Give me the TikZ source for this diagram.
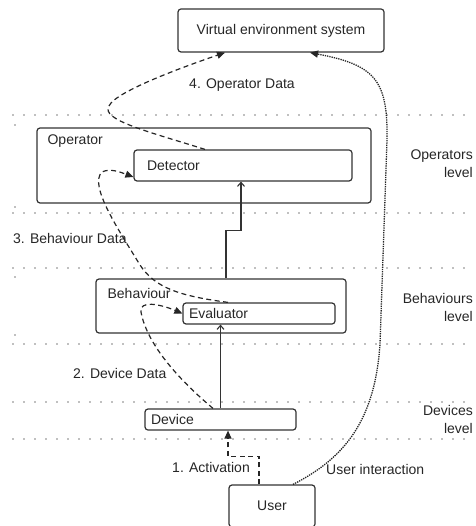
\documentclass[tikz,border=0pt]{standalone}
\usepackage{fontspec}
\setmainfont{Liberation Sans}
\usepackage{tikz}
\usetikzlibrary{arrows.meta,positioning,calc}

\begin{document}
\begin{tikzpicture}[
    x=1pt, y=-1pt,
    font=\fontsize{14}{18}\selectfont,
    box/.style={rectangle, draw=black!80, line width=1.2pt, rounded corners=3pt,
                inner sep=0pt, text=black!85},
    txt/.style={inner sep=0pt, text=black!85},
    level/.style={black!50, line width=1.7pt, line cap=round, dash pattern=on 0pt off 11pt},
    flow/.style={-{Straight Barb[length=4pt,width=7pt]}, black!80, line width=1.1pt},
    data/.style={-{Triangle[length=8pt,width=7pt]}, black!85, line width=1.2pt,
                 dash pattern=on 5pt off 3.5pt},
    interact/.style={-{Triangle[length=8pt,width=7pt]}, black!85, line width=1.3pt,
                     densely dotted},
]
\useasboundingbox (0,0) rectangle (475,526);

% Level separators
\foreach \y in {115,213,268,344,402,439}
    \draw[level] (13,\y) -- (475,\y);
\foreach \y in {125,207,277,335}
    \fill[black!50] (15,\y) circle (0.8pt);

% Top: system
\node[box, minimum width=206pt, minimum height=43pt] (ves) at (281,30.5) {Virtual environment system};

% Operators level
\node[box, minimum width=334pt, minimum height=75pt] (op) at (204,165.5) {};
\node[txt, anchor=west] (opname) at ([shift={(11pt,-14pt)}]op.north west) {Operator};
\node[box, minimum width=218pt, minimum height=31pt, text width=192pt,
      inner xsep=13pt, align=left] (det) at (243,165.5) {Detector};

% Behaviours level
\node[box, minimum width=250pt, minimum height=54pt] (beh) at (221,306) {};
\node[txt, anchor=west] (behname) at ([shift={(12pt,-15pt)}]beh.north west) {Behaviour};
\node[box, minimum width=152pt, minimum height=21pt, text width=140pt,
      inner xsep=6pt, align=left] (eval) at (259,313.5) {Evaluator};

% Devices level
\node[box, minimum width=151pt, minimum height=21pt, text width=139pt,
      inner xsep=6pt, align=left] (dev) at (220.5,419.5) {Device};

% User
\node[box, minimum width=86pt, minimum height=42pt] (user) at (272,506) {User};

% Level labels
\node[txt, align=right, anchor=east] (oplvl) at (473,164) {Operators\\level};
\node[txt, align=right, anchor=east] (behlvl) at (473,307) {Behaviours\\level};
\node[txt, align=right, anchor=east] (devlvl) at (473,419) {Devices\\level};

% Data labels
\node[txt] (opdata) at (242,85) {4. Operator Data};
\node[txt, anchor=west] (behdata) at (13,238) {3. Behaviour Data};
\node[txt, anchor=west] (devdata) at (73,373) {2. Device Data};
\node[txt, anchor=east] (act) at (250,467) {1. Activation};
\node[txt, anchor=west] (uint) at (326,469) {User interaction};

% Solid flow upwards
\draw[flow] (dev.north) -- (dev.north |- eval.south);
\draw[flow] ([xshift=5pt]beh.north) -- ++(0,-48) -| ([xshift=-2pt]det.south);

% Dashed data paths
\draw[data] ([xshift=-38pt]det.north) .. controls (150,132) and (100,120) .. (109,106)
    .. controls (115,92) and (180,68) .. ([xshift=-56pt]ves.south);
\draw[data] ([xshift=-31pt]eval.north) .. controls (180,296) and (155,288) .. (140,265)
    .. controls (120,232) and (88,185) .. (102,172)
    .. controls (110,168) and (120,172) .. ([yshift=-11.5pt]det.west);
\draw[data] ([xshift=-7.5pt]dev.north) .. controls (165,368) and (145,335) .. (141,312)
    .. controls (139,300) and (160,304) .. (eval.west);
\draw[data] ([xshift=-13pt]user.north) -- ++(0,-28) -| ([xshift=7.5pt]dev.south);

% User interaction
\draw[interact] ([xshift=21pt]user.north) .. controls (345,458) and (375,420) .. (380,344)
    -- (387,140) .. controls (388,80) and (375,65) .. ([xshift=29pt]ves.south);

\end{tikzpicture}
\end{document}
